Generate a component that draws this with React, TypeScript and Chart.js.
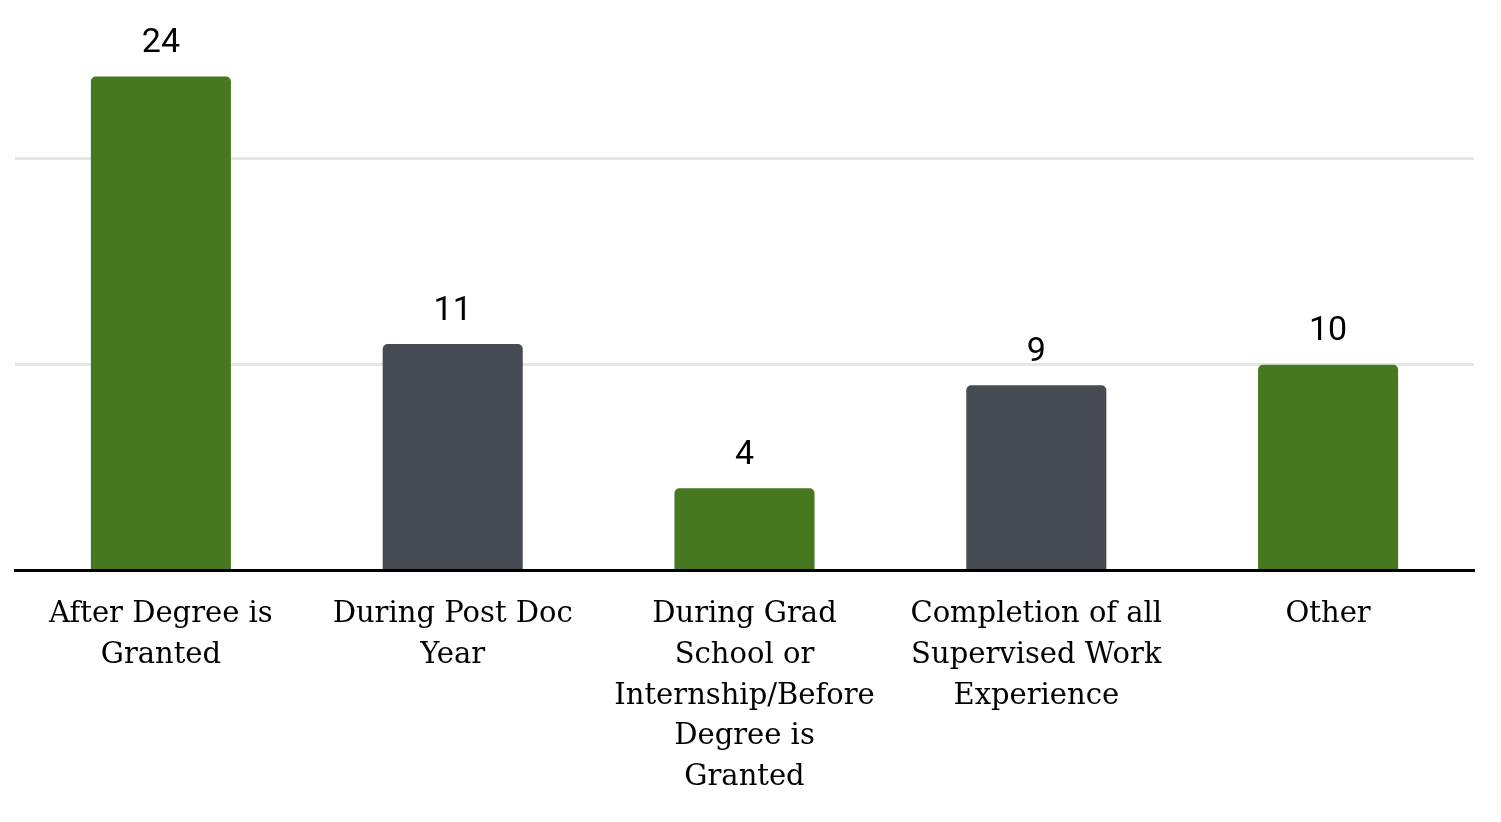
import React, { useEffect, useRef } from "react";
import { Chart, registerables } from "chart.js";

Chart.register(...registerables);

const categories: string[][] = [
  ["After Degree is", "Granted"],
  ["During Post Doc", "Year"],
  ["During Grad", "School or", "Internship/Before", "Degree is", "Granted"],
  ["Completion of all", "Supervised Work", "Experience"],
  ["Other"],
];
const counts: number[] = [24, 11, 4, 9, 10];
const barColors: string[] = ["#46781f", "#474c54", "#46781f", "#474c54", "#46781f"];
const gridValues: number[] = [10, 20];

const valueLabels = {
  id: "valueLabels",
  afterDatasetsDraw(chart: any) {
    const ctx = chart.ctx;
    const meta = chart.getDatasetMeta(0);
    ctx.save();
    ctx.font = "34px Roboto";
    ctx.fillStyle = "#000";
    ctx.textAlign = "center";
    ctx.textBaseline = "bottom";
    meta.data.forEach((bar: any, i: number) => {
      ctx.fillText(String(counts[i]), bar.x, bar.y - 16);
    });
    ctx.restore();
  },
};

export default function App() {
  const ref = useRef<HTMLCanvasElement>(null);

  useEffect(() => {
    if (!ref.current) return;
    const chart = new Chart(ref.current, {
      type: "bar",
      data: {
        labels: categories,
        datasets: [
          {
            data: counts,
            backgroundColor: barColors,
            borderRadius: { topLeft: 5, topRight: 5, bottomLeft: 0, bottomRight: 0 },
            borderSkipped: false,
            categoryPercentage: 1,
            barPercentage: 0.48,
          },
        ],
      },
      options: {
        animation: false,
        responsive: true,
        maintainAspectRatio: false,
        layout: { padding: { top: 56, left: 15, right: 27, bottom: 8 } },
        plugins: {
          legend: { display: false },
          tooltip: { enabled: false },
        },
        scales: {
          x: {
            z: 1,
            grid: { display: false },
            border: { display: true, color: "#000", width: 3 },
            ticks: {
              padding: 16,
              color: "#000",
              maxRotation: 0,
              autoSkip: false,
              font: { family: "'DejaVu Serif'", size: 29, lineHeight: "40.7px" },
            },
          },
          y: {
            min: 0,
            max: 25,
            display: true,
            afterFit(scale: any) {
              scale.width = 0;
            },
            ticks: { display: false, stepSize: 10 },
            border: { display: false },
            grid: {
              drawTicks: false,
              lineWidth: 3,
              color: (c: any) =>
                gridValues.includes(c.tick?.value) ? "#e6e6e6" : "rgba(0,0,0,0)",
            },
          },
        },
      },
      plugins: [valueLabels],
    });
    return () => chart.destroy();
  }, []);

  return (
    <div style={{ position: "fixed", left: 0, top: 0, width: 1501, height: 822, background: "#fff" }}>
      <canvas ref={ref} />
    </div>
  );
}
